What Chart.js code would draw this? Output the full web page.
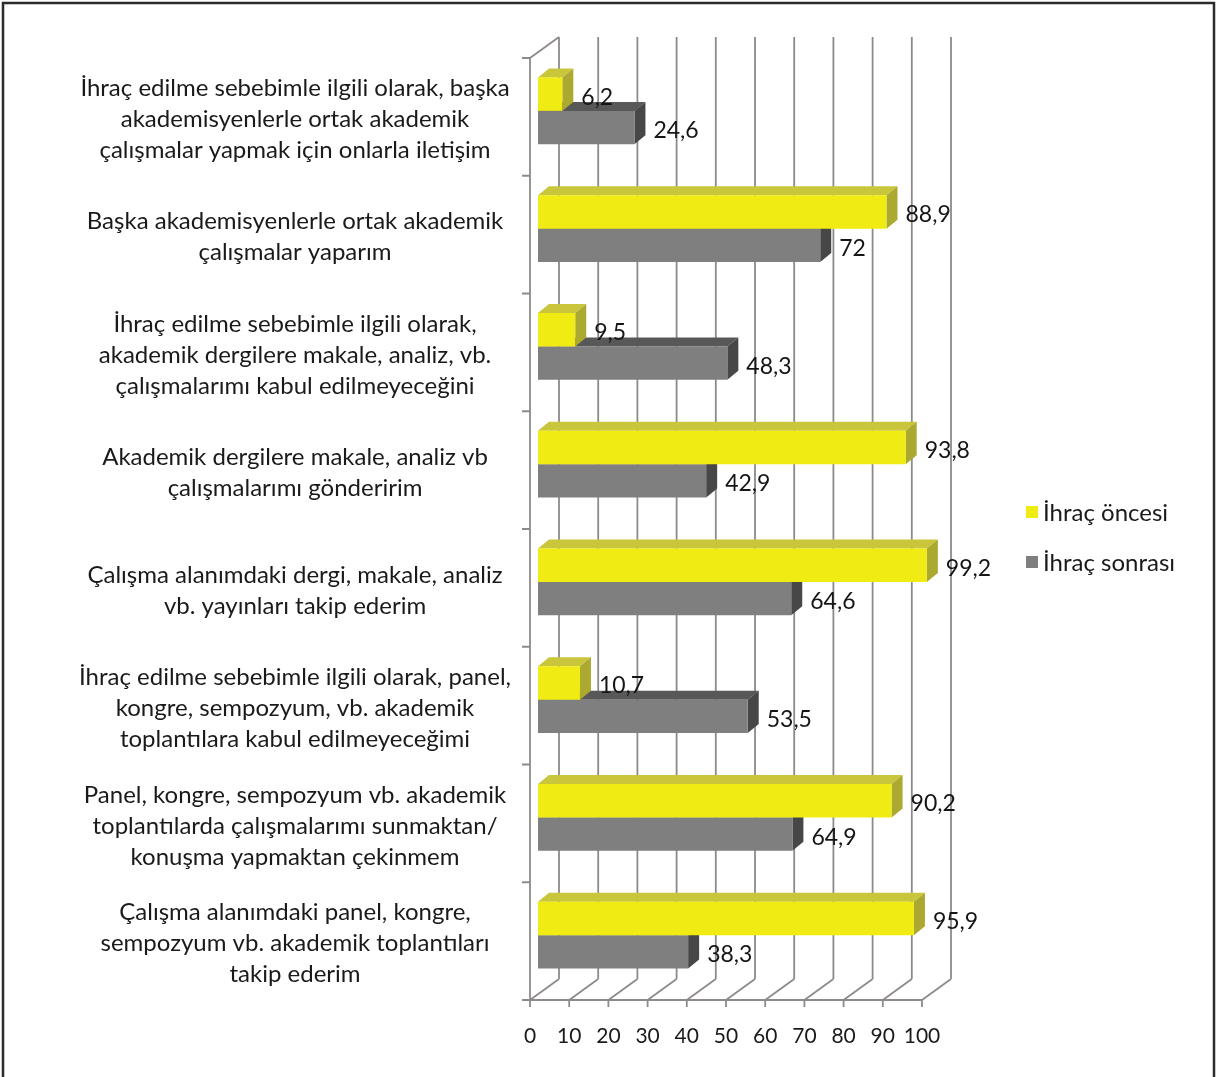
<!DOCTYPE html>
<html>
<head>
<meta charset="utf-8">
<script src="https://cdn.jsdelivr.net/npm/chart.js@4/dist/chart.umd.min.js"></script>
<style>
  html, body { margin: 0; padding: 0; background: #fff; }
  canvas { display: block; }
</style>
</head>
<body>
<canvas id="c" width="1216" height="1077"></canvas>
<script>
const categories = [
  ["İhraç edilme sebebimle ilgili olarak, başka", "akademisyenlerle ortak akademik", "çalışmalar yapmak için onlarla iletişim"],
  ["Başka akademisyenlerle ortak akademik", "çalışmalar yaparım"],
  ["İhraç edilme sebebimle ilgili olarak,", "akademik dergilere makale, analiz, vb.", "çalışmalarımı kabul edilmeyeceğini"],
  ["Akademik dergilere makale, analiz vb", "çalışmalarımı gönderirim"],
  ["Çalışma alanımdaki dergi, makale, analiz", "vb. yayınları takip ederim"],
  ["İhraç edilme sebebimle ilgili olarak, panel,", "kongre, sempozyum, vb. akademik", "toplantılara kabul edilmeyeceğimi"],
  ["Panel, kongre, sempozyum vb. akademik", "toplantılarda çalışmalarımı sunmaktan/", "konuşma yapmaktan çekinmem"],
  ["Çalışma alanımdaki panel, kongre,", "sempozyum vb. akademik toplantıları", "takip ederim"]
];
const seriesNames = ["İhraç öncesi", "İhraç sonrası"];
const oncesi = [6.2, 88.9, 9.5, 93.8, 99.2, 10.7, 90.2, 95.9];
const sonrasi = [24.6, 72, 48.3, 42.9, 64.6, 53.5, 64.9, 38.3];
const xTicks = [0, 10, 20, 30, 40, 50, 60, 70, 80, 90, 100];

const FONT = "Lato, 'Open Sans', sans-serif";
const faces = [
  { front: '#EFEB13', top: '#C9C63B', side: '#ABA92F' },
  { front: '#7F7F7F', top: '#585858', side: '#474747' }
];
const DEPTH_X = 11, DEPTH_Y = 9;      // bar depth
const FRONT_DX = -8, FRONT_DY = 6;    // front plane relative to bar plane
const BACK_DX = 29, BACK_DY = -21;    // back wall relative to front plane

const threeD = {
  id: 'threeD',
  beforeDraw(chart) {
    const ctx = chart.ctx;
    ctx.save();
    ctx.fillStyle = '#fff';
    ctx.fillRect(0, 0, chart.width, chart.height);
    ctx.strokeStyle = '#2b2b2b';
    ctx.lineWidth = 2.5;
    ctx.strokeRect(3, 3, chart.width - 5, chart.height + 10);
    ctx.restore();
  },
  beforeDatasetsDraw(chart) {
    const ctx = chart.ctx;
    const xs = chart.scales.x;
    const a = chart.chartArea;
    const top = a.top + FRONT_DY, bottom = a.bottom + FRONT_DY;
    ctx.save();
    ctx.strokeStyle = '#8e8a8a';
    ctx.lineWidth = 1.8;
    ctx.beginPath();
    xTicks.forEach(v => {
      const fx = xs.getPixelForValue(v) + FRONT_DX;
      ctx.moveTo(fx + BACK_DX, top + BACK_DY);
      ctx.lineTo(fx + BACK_DX, bottom + BACK_DY);
      ctx.moveTo(fx, bottom);
      ctx.lineTo(fx + BACK_DX, bottom + BACK_DY);
      ctx.moveTo(fx, bottom);
      ctx.lineTo(fx, bottom + 7);
    });
    const x0 = xs.getPixelForValue(0) + FRONT_DX;
    const x100 = xs.getPixelForValue(100) + FRONT_DX;
    ctx.moveTo(x0 - 8, bottom);
    ctx.lineTo(x100, bottom);
    ctx.moveTo(x0, top);
    ctx.lineTo(x0, bottom);
    ctx.moveTo(x0, top);
    ctx.lineTo(x0 + BACK_DX, top + BACK_DY);
    const n = categories.length;
    for (let i = 0; i <= n; i++) {
      const y = top + (bottom - top) * i / n;
      ctx.moveTo(x0 - 8, y);
      ctx.lineTo(x0, y);
    }
    ctx.stroke();
    ctx.restore();
  },
  beforeDatasetDraw(chart, args) {
    const ctx = chart.ctx;
    const f = faces[args.index];
    ctx.save();
    args.meta.data.forEach(el => {
      const p = el.getProps(['x', 'y', 'base', 'height'], true);
      const l = Math.min(p.base, p.x), r = Math.max(p.base, p.x);
      const t = p.y - p.height / 2, b = p.y + p.height / 2;
      ctx.fillStyle = f.top;
      ctx.beginPath();
      ctx.moveTo(l, t);
      ctx.lineTo(l + DEPTH_X, t - DEPTH_Y);
      ctx.lineTo(r + DEPTH_X, t - DEPTH_Y);
      ctx.lineTo(r, t);
      ctx.closePath();
      ctx.fill();
      ctx.fillStyle = f.side;
      ctx.beginPath();
      ctx.moveTo(r, t);
      ctx.lineTo(r + DEPTH_X, t - DEPTH_Y);
      ctx.lineTo(r + DEPTH_X, b - DEPTH_Y);
      ctx.lineTo(r, b);
      ctx.closePath();
      ctx.fill();
    });
    ctx.restore();
  },
  afterDatasetsDraw(chart) {
    const ctx = chart.ctx;
    ctx.save();
    ctx.font = "23px " + FONT;
    ctx.fillStyle = '#151515';
    ctx.textAlign = 'left';
    ctx.textBaseline = 'middle';
    chart.data.datasets.forEach((ds, di) => {
      const meta = chart.getDatasetMeta(di);
      meta.data.forEach((el, i) => {
        const p = el.getProps(['x', 'y'], true);
        const txt = String(ds.data[i]).replace('.', ',');
        ctx.fillText(txt, p.x + 19, p.y + 3);
      });
    });
    const lx = 1026, ly = [512, 562];
    ctx.font = "24px " + FONT;
    chart.data.datasets.forEach((ds, di) => {
      ctx.fillStyle = ds.backgroundColor;
      ctx.fillRect(lx, ly[di] - 6, 12, 12);
      ctx.fillStyle = '#1a1a1a';
      ctx.fillText(ds.label, lx + 17, ly[di] + 1);
    });
    ctx.restore();
  }
};

new Chart(document.getElementById('c'), {
  type: 'bar',
  data: {
    labels: categories,
    datasets: [
      { label: seriesNames[0], data: oncesi, backgroundColor: faces[0].front, borderWidth: 0,
        barPercentage: 1, categoryPercentage: 0.569 },
      { label: seriesNames[1], data: sonrasi, backgroundColor: faces[1].front, borderWidth: 0,
        barPercentage: 1, categoryPercentage: 0.569 }
    ]
  },
  options: {
    indexAxis: 'y',
    responsive: false,
    animation: false,
    devicePixelRatio: 1,
    layout: { padding: { left: 0, right: 286, top: 52, bottom: 0 } },
    plugins: {
      legend: { display: false },
      tooltip: { enabled: false }
    },
    scales: {
      x: {
        min: 0, max: 100,
        grid: { display: false, drawTicks: false },
        border: { display: false },
        afterFit(s) { s.height = 83; s.paddingLeft = 0; s.paddingRight = 0; },
        ticks: {
          stepSize: 10, autoSkip: false, maxRotation: 0,
          labelOffset: FRONT_DX, padding: 30,
          color: '#1a1a1a', font: { family: FONT, size: 21 }
        }
      },
      y: {
        grid: { display: false, drawTicks: false },
        border: { display: false },
        afterFit(s) { s.width = 538; s.paddingTop = 0; s.paddingBottom = 0; },
        ticks: {
          autoSkip: false, crossAlign: 'center', padding: 27,
          labelOffset: FRONT_DY + 2.5,
          color: '#1a1a1a', font: { family: FONT, size: 24, lineHeight: 31 / 24 }
        }
      }
    }
  },
  plugins: [threeD]
});
</script>
</body>
</html>
